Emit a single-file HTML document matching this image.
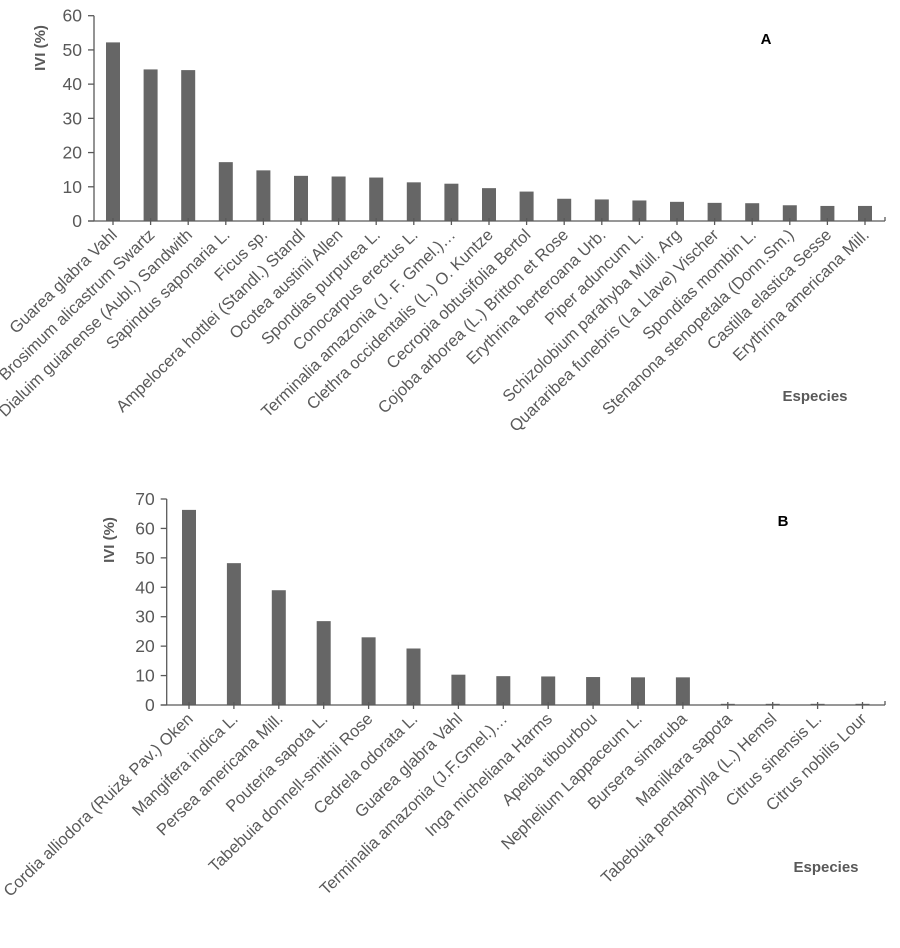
<!DOCTYPE html>
<html><head><meta charset="utf-8">
<style>
html,body{margin:0;padding:0;background:#fff;}
svg{display:block;font-family:"Liberation Sans",Arial,sans-serif;}
</style></head>
<body>
<svg id="chart" width="900" height="948" viewBox="0 0 900 948" xmlns="http://www.w3.org/2000/svg"></svg>
<script>
const catsA = ["Guarea glabra Vahl","Brosimum alicastrum Swartz","Dialuim guianense (Aubl.) Sandwith","Sapindus saponaria L.","Ficus sp.","Ampelocera hottlei (Standl.) Standl","Ocotea austinii Allen","Spondias purpurea L.","Conocarpus erectus L.","Terminalia amazonia (J. F. Gmel.)…","Clethra occidentalis (L.) O. Kuntze","Cecropia obtusifolia Bertol","Cojoba arborea (L.) Britton et Rose","Erythrina berteroana Urb.","Piper aduncum L.","Schizolobium parahyba Müll. Arg","Quararibea funebris (La Llave) Vischer","Spondias mombin L.","Stenanona stenopetala (Donn.Sm.)","Castilla elastica Sesse","Erythrina americana Mill."];
const valsA = [52.2,44.3,44.1,17.2,14.8,13.2,13.0,12.7,11.3,10.9,9.6,8.6,6.5,6.3,6.0,5.6,5.3,5.2,4.6,4.4,4.4];
const ticksA = [0,10,20,30,40,50,60];
const catsB = ["Cordia alliodora (Ruiz& Pav.) Oken","Mangifera indica L.","Persea americana Mill.","Pouteria sapota L.","Tabebuia donnell-smithii Rose","Cedrela odorata L.","Guarea glabra Vahl","Terminalia amazonia (J.F.Gmel.)…","Inga micheliana Harms","Apeiba tibourbou","Nephelium Lappaceum L.","Bursera simaruba","Manilkara sapota","Tabebuia pentaphylla (L.) Hemsl","Citrus sinensis L.","Citrus nobilis Lour"];
const valsB = [66.3,48.2,39.0,28.5,23.0,19.2,10.3,9.8,9.7,9.5,9.4,9.4,0.4,0.4,0.4,0.4];
const ticksB = [0,10,20,30,40,50,60,70];

const svg = document.getElementById('chart');
const NS = 'http://www.w3.org/2000/svg';
function mk(tag, attrs, parent){const e=document.createElementNS(NS,tag);for(const k in attrs)e.setAttribute(k,attrs[k]);(parent||svg).appendChild(e);return e;}

function drawChart(cfg){
  const g = mk('g',{});
  
  
  const y = v => cfg.y0 - (v - 0) / cfg.max * (cfg.y0 - cfg.yTop);
  const x = i => cfg.x0c + i * cfg.step;
  cfg.vals.forEach((v,i)=>{
    const r = mk('rect',{x:x(i)-7,y:y(v),width:14,height:cfg.y0-y(v),fill:'#666666'},g);
    
    
  });
  const ya = mk('line',{x1:cfg.ax,y1:cfg.yTop,x2:cfg.ax,y2:cfg.y0,stroke:'#595959','stroke-width':1.3},g);
  
  
  const xa = mk('line',{x1:cfg.ax-6,y1:cfg.y0,x2:cfg.axEnd,y2:cfg.y0,stroke:'#595959','stroke-width':1.3},g);
  
  
  mk('line',{x1:cfg.axEnd,y1:cfg.y0-4,x2:cfg.axEnd,y2:cfg.y0,stroke:'#595959','stroke-width':1.3},g);
  cfg.ticks.forEach(t=>{
    mk('line',{x1:cfg.ax-6,y1:y(t),x2:cfg.ax,y2:y(t),stroke:'#595959','stroke-width':1.3},g);
    const tx = mk('text',{x:cfg.ax-12,y:y(t)+6,'text-anchor':'end','font-size':17.5,fill:'#595959'},g);
    tx.textContent = t;
    
    
  });
  cfg.cats.forEach((c,i)=>{
    mk('line',{x1:x(i),y1:cfg.y0-3,x2:x(i),y2:cfg.y0+4,stroke:'#595959','stroke-width':1.3},g);
    const tx = mk('text',{x:x(i)+5,y:cfg.y0+15,'text-anchor':'end','font-size':16.5,fill:'#595959',transform:`rotate(-44 ${x(i)+5} ${cfg.y0+15})`},g);
    tx.textContent = c;
    
    
  });
  const yt = mk('text',{x:cfg.ytX,y:cfg.ytY,'text-anchor':'middle','font-size':15,'font-weight':'bold',fill:'#595959',transform:`rotate(-90 ${cfg.ytX} ${cfg.ytY})`},g);
  yt.textContent = 'IVI (%)';
  
  
  const xt = mk('text',{x:cfg.xtX,y:cfg.xtY,'text-anchor':'middle','font-size':15,'font-weight':'bold',fill:'#595959'},g);
  xt.textContent = 'Especies';
  
  
  const lt = mk('text',{x:cfg.lX,y:cfg.lY,'text-anchor':'middle','font-size':15,'font-weight':'bold',fill:'#000'},g);
  lt.textContent = cfg.letter;
  
  
}

drawChart({id:'a',cats:catsA,vals:valsA,ticks:ticksA,max:60,y0:221,yTop:15.7,ax:94,axEnd:885,x0c:113,step:37.6,
  ytX:45,ytY:48,xtX:815,xtY:401,lX:766,lY:44,letter:'A'});
drawChart({id:'b',cats:catsB,vals:valsB,ticks:ticksB,max:70,y0:705,yTop:499,ax:166.7,axEnd:885,x0c:189,step:44.9,
  ytX:114,ytY:540,xtX:826,xtY:872,lX:783,lY:526,letter:'B'});
</script>
</body></html>
